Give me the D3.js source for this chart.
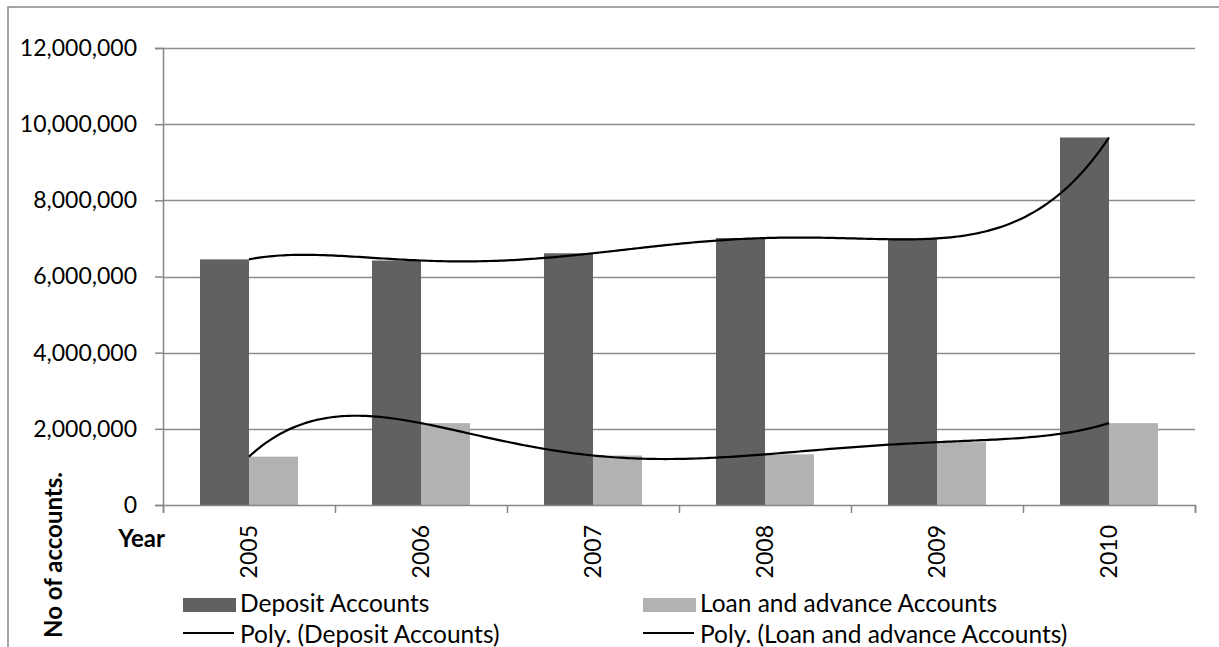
<!DOCTYPE html>
<html>
<head>
<meta charset="utf-8">
<script src="https://cdn.jsdelivr.net/npm/d3@7"></script>
<style>
  html, body { margin: 0; padding: 0; background: #fff; }
  svg { display: block; }
  text { font-family: Lato, "Open Sans", sans-serif; fill: #000; }
</style>
</head>
<body>
<svg id="chart" width="1219" height="647"></svg>
<script>
// Number of accounts per year
const years = ["2005", "2006", "2007", "2008", "2009", "2010"];
const depositAccounts = [6450000, 6420000, 6610000, 7010000, 7000000, 9650000];
const loanAccounts    = [1270000, 2150000, 1300000, 1330000, 1650000, 2150000];
const yTicks = [0, 2000000, 4000000, 6000000, 8000000, 10000000, 12000000];
const seriesNames = ["Deposit Accounts", "Loan and advance Accounts"];
const trendNames = ["Poly. (Deposit Accounts)", "Poly. (Loan and advance Accounts)"];

const W = 1219, H = 647;
const plot = { left: 163, right: 1195, top: 48, bottom: 505 };
const colors = { deposit: "#616161", loan: "#b2b2b2", axis: "#868686", grid: "#8c8c8c" };

const svg = d3.select("#chart");

// outer chart border
svg.append("rect")
  .attr("x", 8).attr("y", 7).attr("width", W + 20).attr("height", H + 20)
  .attr("fill", "none").attr("stroke", colors.axis).attr("stroke-width", 1.5);

const y = d3.scaleLinear().domain([0, 12000000]).range([plot.bottom, plot.top]);
const x0 = d3.scaleBand().domain(years).range([plot.left, plot.right])
  .paddingInner(0.43).paddingOuter(0.215);
const x1 = d3.scaleBand().domain(["deposit", "loan"]).range([0, x0.bandwidth()]);

// horizontal gridlines
svg.append("g").selectAll("line").data(yTicks.filter(d => d > 0)).join("line")
  .attr("x1", plot.left).attr("x2", plot.right)
  .attr("y1", d => Math.round(y(d)) + 0.5).attr("y2", d => Math.round(y(d)) + 0.5)
  .attr("stroke", colors.grid).attr("stroke-width", 1.5);

// y axis
const yAxis = svg.append("g").attr("transform", `translate(${plot.left},0)`)
  .call(d3.axisLeft(y).tickValues(yTicks).tickSize(8).tickPadding(18)
    .tickFormat(d3.format(",")));
yAxis.select(".domain").attr("stroke", colors.axis).attr("stroke-width", 1.5);
yAxis.selectAll(".tick line").attr("stroke", colors.axis).attr("stroke-width", 1.5);
yAxis.selectAll(".tick text").attr("font-size", 23).attr("font-family", "Lato").attr("fill", "#000");

// bars
const groups = svg.append("g").selectAll("g").data(years).join("g")
  .attr("transform", d => `translate(${x0(d)},0)`);
groups.append("rect")
  .attr("x", x1("deposit")).attr("width", x1.bandwidth())
  .attr("y", (d, i) => y(depositAccounts[i]))
  .attr("height", (d, i) => y(0) - y(depositAccounts[i]))
  .attr("fill", colors.deposit);
groups.append("rect")
  .attr("x", x1("loan")).attr("width", x1.bandwidth())
  .attr("y", (d, i) => y(loanAccounts[i]))
  .attr("height", (d, i) => y(0) - y(loanAccounts[i]))
  .attr("fill", colors.loan);

// x axis with ticks at category boundaries
const xb = d3.scaleLinear().domain([0, years.length]).range([plot.left, plot.right]);
const xAxis = svg.append("g").attr("transform", `translate(0,${plot.bottom})`)
  .call(d3.axisBottom(xb).tickValues(d3.range(years.length + 1)).tickSize(8).tickFormat(""));
xAxis.select(".domain").attr("stroke", colors.axis).attr("stroke-width", 1.5);
xAxis.selectAll(".tick line").attr("stroke", colors.axis).attr("stroke-width", 1.5);

// rotated year labels
svg.append("g").selectAll("text").data(years).join("text")
  .attr("transform", d => `translate(${x0(d) + x0.bandwidth() / 2},${plot.bottom + 20}) rotate(-90)`)
  .attr("text-anchor", "end").attr("dy", "0.36em")
  .attr("font-size", 23).text(d => d);

// polynomial (order 5) least-squares trendline
function polyFit(xs, ys, order) {
  const n = order + 1;
  const A = Array.from({ length: n }, () => new Array(n + 1).fill(0));
  for (let r = 0; r < n; r++) {
    for (let c = 0; c < n; c++) A[r][c] = d3.sum(xs, xv => Math.pow(xv, r + c));
    A[r][n] = d3.sum(xs, (xv, k) => ys[k] * Math.pow(xv, r));
  }
  for (let i = 0; i < n; i++) {
    let p = i;
    for (let k = i + 1; k < n; k++) if (Math.abs(A[k][i]) > Math.abs(A[p][i])) p = k;
    [A[i], A[p]] = [A[p], A[i]];
    for (let k = i + 1; k < n; k++) {
      const f = A[k][i] / A[i][i];
      for (let j = i; j <= n; j++) A[k][j] -= f * A[i][j];
    }
  }
  const coef = new Array(n).fill(0);
  for (let i = n - 1; i >= 0; i--) {
    let s = A[i][n];
    for (let j = i + 1; j < n; j++) s -= A[i][j] * coef[j];
    coef[i] = s / A[i][i];
  }
  return xv => coef.reduce((acc, c, i) => acc + c * Math.pow(xv, i), 0);
}
const xIdx = years.map((d, i) => i + 1);
const xc = d3.scaleLinear().domain([1, years.length])
  .range([x0(years[0]) + x0.bandwidth() / 2, x0(years[years.length - 1]) + x0.bandwidth() / 2]);
const samples = d3.range(1, years.length + 0.0001, 0.02);
const line = d3.line().x(d => xc(d[0])).y(d => y(d[1])).curve(d3.curveLinear);
[depositAccounts, loanAccounts].forEach(vals => {
  const f = polyFit(xIdx, vals, 5);
  svg.append("path").datum(samples.map(s => [s, f(s)]))
    .attr("d", line).attr("fill", "none").attr("stroke", "#000").attr("stroke-width", 2.2);
});

// axis titles
svg.append("text").attr("x", 165).attr("y", 547).attr("text-anchor", "end")
  .attr("font-size", 24).attr("font-weight", "bold").text("Year");
svg.append("text").attr("transform", "translate(62,555) rotate(-90)")
  .attr("text-anchor", "middle").attr("font-size", 24).attr("font-weight", "bold")
  .text("No of accounts.");

// legend
const legendCols = [183, 643];
const legend = svg.append("g");
seriesNames.forEach((name, i) => {
  legend.append("rect").attr("x", legendCols[i]).attr("y", 598).attr("width", 53).attr("height", 14)
    .attr("fill", i === 0 ? colors.deposit : colors.loan);
  legend.append("text").attr("x", legendCols[i] + 57).attr("y", 612).attr("font-size", 24.5).text(name);
});
trendNames.forEach((name, i) => {
  legend.append("line").attr("x1", legendCols[i]).attr("x2", legendCols[i] + 51)
    .attr("y1", 633).attr("y2", 633).attr("stroke", "#000").attr("stroke-width", 2);
  legend.append("text").attr("x", legendCols[i] + 57).attr("y", 643).attr("font-size", 24.5).text(name);
});
</script>
</body>
</html>
